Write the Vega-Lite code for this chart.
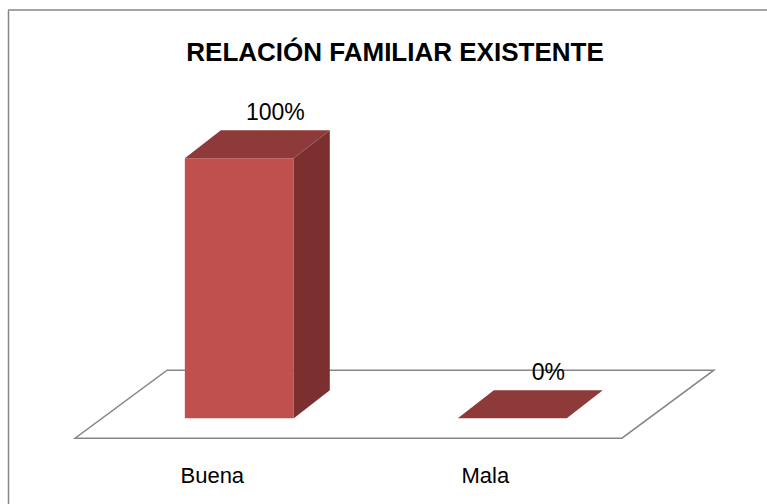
{
  "$schema": "https://vega.github.io/schema/vega-lite/v6.json",
  "width": 759,
  "height": 494,
  "padding": {"left": 8, "top": 10, "right": 0, "bottom": 0},
  "autosize": {"type": "none"},
  "background": "white",
  "title": {
    "text": "RELACIÓN FAMILIAR EXISTENTE",
    "font": "Liberation Sans",
    "fontSize": 26,
    "fontWeight": "bold",
    "color": "black",
    "anchor": "middle",
    "frame": "group",
    "baseline": "alphabetic",
    "offset": 0,
    "dx": 7.5,
    "dy": 78
  },
  "data": {"values": [
    {"categoria": "Buena", "valor": 1},
    {"categoria": "Mala", "valor": 0}
  ]},
  "layer": [
    {
      "data": {"values": [{}]},
      "mark": {"type": "point", "shape": "M-1,0.1064L0.712,0.1064L1,-0.1064L-0.712,-0.1064Z", "size": 408040, "filled": true, "fill": "white", "stroke": "#868686", "strokeWidth": 1.5, "opacity": 1, "xOffset": 155.2, "yOffset": -14},
      "encoding": {
        "x": {"datum": "Buena", "type": "nominal", "title": null},
        "y": {"datum": 0, "type": "quantitative", "title": null}
      }
    },
    {
      "data": {"values": [{}]},
      "mark": {"type": "rule", "color": "#868686", "strokeWidth": 1.5},
      "encoding": {
        "y": {"datum": 1.57, "type": "quantitative", "title": null}
      }
    },
    {
      "mark": {"type": "bar", "color": "#C0504D", "opacity": 1},
      "encoding": {
        "x": {"field": "categoria", "type": "nominal", "title": null,
              "scale": {"paddingInner": 0.601, "paddingOuter": 0.6905, "align": 0.469}},
        "y": {"field": "valor", "type": "quantitative", "title": null,
              "scale": {"domain": [-0.33, 1.57], "nice": false, "zero": false}},
        "y2": {"datum": 0}
      }
    },
    {
      "transform": [
        {"filter": "datum.valor > 0"},
        {"calculate": "datum.valor / 2", "as": "mitad"}
      ],
      "mark": {"type": "point", "shape": "M-0.125,-0.8056L-0.125,1L0.125,0.8056L0.125,-1Z", "size": 82944, "filled": true, "color": "#7B302F", "opacity": 1, "xOffset": 72.5, "yOffset": -14},
      "encoding": {
        "x": {"field": "categoria", "type": "nominal", "title": null},
        "y": {"field": "mitad", "type": "quantitative", "title": null}
      }
    },
    {
      "mark": {"type": "point", "shape": "M-1,0.193L0.503,0.193L1,-0.193L-0.503,-0.193Z", "size": 21025, "filled": true, "color": "#8F3A3A", "opacity": 1, "xOffset": 18, "yOffset": -14},
      "encoding": {
        "x": {"field": "categoria", "type": "nominal", "title": null},
        "y": {"field": "valor", "type": "quantitative", "title": null}
      }
    },
    {
      "mark": {"type": "text", "font": "Liberation Sans", "fontSize": 23, "color": "black", "align": "center", "baseline": "alphabetic", "xOffset": 36, "yOffset": -38},
      "encoding": {
        "x": {"field": "categoria", "type": "nominal", "title": null},
        "y": {"field": "valor", "type": "quantitative", "title": null},
        "text": {"field": "valor", "type": "quantitative", "format": ".0%"}
      }
    }
  ],
  "config": {
    "view": {"stroke": null},
    "axisX": {"domain": false, "ticks": false, "tickSize": 0, "labelPadding": 0, "offset": -22, "labelOffset": -27, "labelFont": "Liberation Sans", "labelFontSize": 22, "labelColor": "black", "labelBaseline": "alphabetic", "labelAngle": 0, "grid": false},
    "axisY": {"domain": true, "domainColor": "#868686", "domainWidth": 1.5, "labels": false, "ticks": false, "grid": false}
  }
}
